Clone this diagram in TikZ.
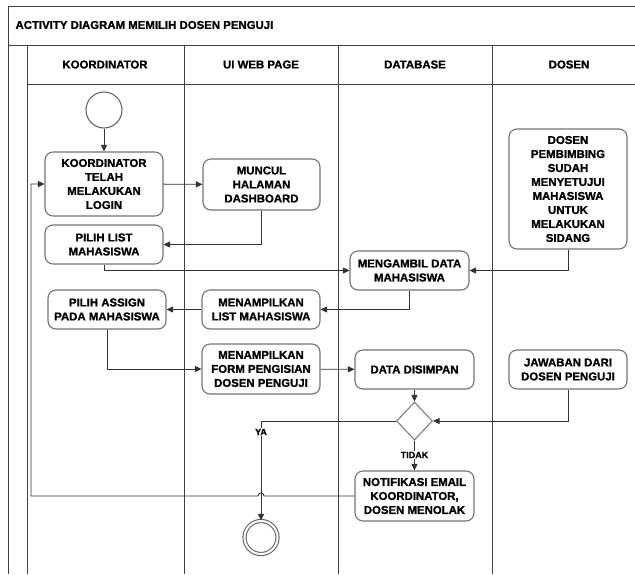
\documentclass[tikz,border=0pt]{standalone}
\usepackage{fontspec}
\setmainfont{Liberation Sans}[BoldFeatures={FakeBold=1.2}]
\usetikzlibrary{arrows.meta,shapes.geometric,calc}
\tikzset{
  frameline/.style={draw=black!75, line width=0.9pt},
  actbox/.style={draw=black!55, line width=1.1pt, rounded corners=8pt, fill=white,
    align=center, inner sep=1pt, font=\fontsize{11.4}{14}\selectfont\bfseries},
  conn/.style={draw=black!80, line width=0.9pt, -{Triangle[length=6.5pt,width=6pt]}},
  lanehead/.style={font=\fontsize{11.4}{14}\selectfont\bfseries},
  guard/.style={font=\fontsize{9}{10}\selectfont\bfseries, fill=white, inner sep=0.8pt},
  startnode/.style={circle, draw=black!60, line width=1.1pt, fill=white, minimum size=36pt, inner sep=0pt},
  endnode/.style={circle, draw=black!60, line width=1.1pt, double=white, double distance=2pt, fill=white, minimum size=33pt, inner sep=0pt},
  decision/.style={diamond, draw=black!50, line width=1.1pt, fill=white, minimum width=36pt, minimum height=38pt, inner sep=0pt}
}
\begin{document}
\begin{tikzpicture}[x=1pt,y=-1pt]
\useasboundingbox (0,0) rectangle (635,574);
\fill[white] (0,0) rectangle (635,574);
% frame
\draw[frameline] (635,6) -- (8,6) -- (8,574);
\draw[frameline] (8,45) -- (635,45);
\draw[frameline] (27,45) -- (27,574);
\draw[frameline] (27,84) -- (635,84);
\draw[frameline] (184,45) -- (184,574);
\draw[frameline] (338,45) -- (338,574);
\draw[frameline] (492,45) -- (492,574);
% title and headers
\node[lanehead, anchor=west] (title) at (12,25) {ACTIVITY DIAGRAM MEMILIH DOSEN PENGUJI};
\node[lanehead] (h1) at (105,64.5) {KOORDINATOR};
\node[lanehead] (h2) at (261,64.5) {UI WEB PAGE};
\node[lanehead] (h3) at (415,64.5) {DATABASE};
\node[lanehead] (h4) at (569,64.5) {DOSEN};
% nodes
\node[startnode] (start) at (104,110) {};
\node[actbox, minimum width=118pt, minimum height=64pt] (login) at (104,184) {KOORDINATOR\\TELAH\\MELAKUKAN\\LOGIN};
\node[actbox, minimum width=117pt, minimum height=51pt] (muncul) at (261.5,184.5) {MUNCUL\\HALAMAN\\DASHBOARD};
\node[actbox, minimum width=118pt, minimum height=39pt] (pilihlist) at (104,244.5) {PILIH LIST\\MAHASISWA};
\node[actbox, minimum width=119pt, minimum height=39pt] (mengambil) at (409.5,270.5) {MENGAMBIL DATA\\MAHASISWA};
\node[actbox, minimum width=118pt, minimum height=120pt] (dosenpemb) at (568,189) {DOSEN\\PEMBIMBING\\SUDAH\\MENYETUJUI\\MAHASISWA\\UNTUK\\MELAKUKAN\\SIDANG};
\node[actbox, minimum width=118pt, minimum height=39pt] (tampillist) at (261,309.5) {MENAMPILKAN\\LIST MAHASISWA};
\node[actbox, minimum width=118pt, minimum height=39pt] (assign) at (107,309.5) {PILIH ASSIGN\\PADA MAHASISWA};
\node[actbox, minimum width=118pt, minimum height=50pt] (form) at (261,369) {MENAMPILKAN\\FORM PENGISIAN\\DOSEN PENGUJI};
\node[actbox, minimum width=119pt, minimum height=39pt] (simpan) at (414.5,369.5) {DATA DISIMPAN};
\node[actbox, minimum width=118pt, minimum height=39pt] (jawaban) at (568,369.5) {JAWABAN DARI\\DOSEN PENGUJI};
\node[decision] (dec) at (414.5,421) {};
\node[actbox, minimum width=119pt, minimum height=50pt] (notif) at (414.5,496) {NOTIFIKASI EMAIL\\KOORDINATOR,\\DOSEN MENOLAK};
\node[endnode] (end) at (261,537.5) {};
\coordinate (hopR) at (264,496);
\coordinate (retBL) at (31,496);
\coordinate (retTL) at (31,184);
% connectors
\draw[conn] (start) -- (login);
\draw[conn] (login) -- (muncul);
\draw[conn] (muncul.south) |- (pilihlist.east);
\draw[conn] (pilihlist.south) |- (mengambil.west);
\draw[conn] (dosenpemb.south) |- (mengambil.east);
\draw[conn] (mengambil.south) |- (tampillist.east);
\draw[conn] (tampillist) -- (assign);
\draw[conn] (assign.south) |- (form.west);
\draw[conn] (form) -- (simpan);
\draw[conn] (simpan) -- (dec);
\draw[conn] (jawaban.south) |- (dec.east);
\draw[conn] (notif.west) -- (hopR) arc (0:-180:3) -- (retBL) -- (retTL) -- (login.west);
\draw[conn] (dec.west) -| (end.north);
\draw[conn] (dec.south) -- (notif.north);
\node[guard] (ya) at (261,432) {YA};
\node[guard] (tidak) at (414.5,455) {TIDAK};
\end{tikzpicture}
\end{document}
